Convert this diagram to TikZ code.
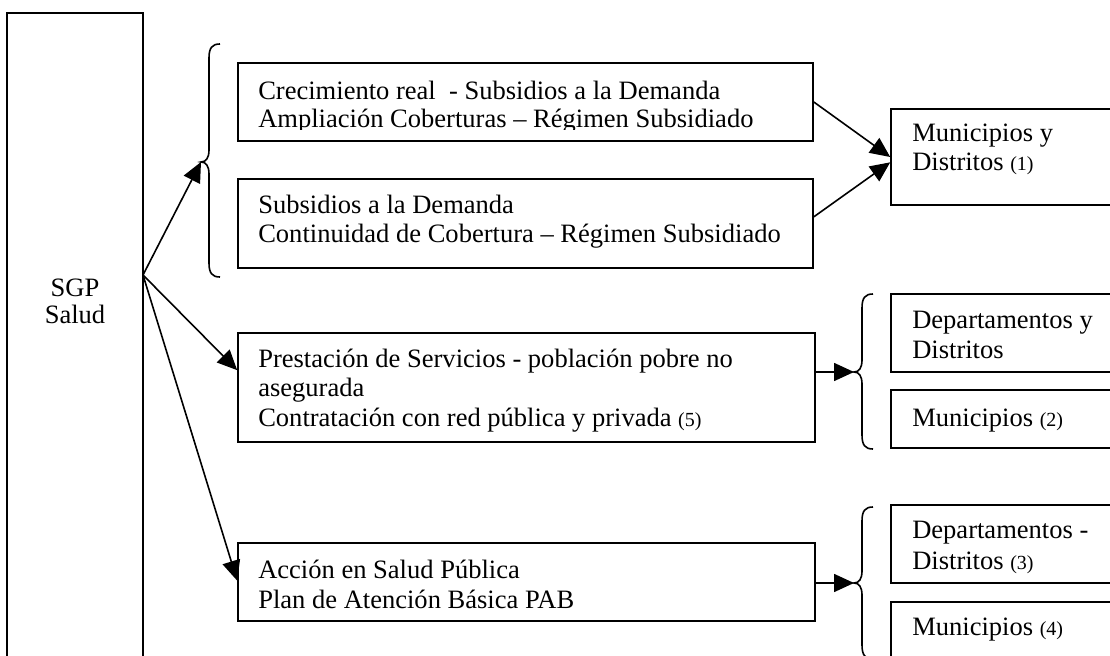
\documentclass[tikz,border=0pt]{standalone}
\usepackage{fontspec}
\setmainfont{Liberation Serif}
\usetikzlibrary{arrows.meta,fit}
\newcommand{\smnum}[1]{{\fontsize{15}{17}\selectfont(#1)}}
\newcommand{\drawbrace}[4]{%
  \draw[brc] (#1,#2) .. controls (#1-8,#2) and (#1-11,#2+4) .. (#1-11,#2+14)
    -- (#1-11,#3-12) .. controls (#1-11,#3-4) and (#1-14,#3) .. (#1-19,#3)
    .. controls (#1-14,#3) and (#1-11,#3+4) .. (#1-11,#3+12)
    -- (#1-11,#4-14) .. controls (#1-11,#4-4) and (#1-8,#4) .. (#1,#4);}
\begin{document}
\begin{tikzpicture}[x=0.75pt,y=-0.75pt,
  box/.style={draw, line width=1.2pt, inner sep=0pt, rectangle},
  ln/.style={anchor=base west, inner sep=0pt, font=\fontsize{19.9}{22}\selectfont},
  lc/.style={anchor=base, inner sep=0pt, font=\fontsize{19.9}{22}\selectfont},
  arr/.style={line width=1.2pt, -{Triangle[length=15pt,width=13.5pt]}},
  brc/.style={line width=1.2pt}]
\path[use as bounding box, clip] (0,0) rectangle (1110,656);
\fill[white] (0,0) rectangle (1110,656);

% boxes
\node[box, fit={(7,13) (143,700)}] (S) {};
\node[box, fit={(238,63) (813,141)}] (A) {};
\node[box, fit={(238,179) (813,268)}] (B) {};
\node[box, fit={(238,333) (815,442)}] (P) {};
\node[box, fit={(238,543) (815,621)}] (D) {};
\node[box, fit={(891,109) (1120,205)}] (C) {};
\node[box, fit={(891,294) (1120,372)}] (E) {};
\node[box, fit={(891,390) (1120,448)}] (F) {};
\node[box, fit={(891,505) (1120,583)}] (G) {};
\node[box, fit={(891,602) (1120,700)}] (H) {};

% texts
\node[lc] (S1) at (75,296) {SGP};
\node[lc] (S2) at (75,323) {Salud};
\begin{scope}
  \clip (238,63) rectangle (813,130);
  \node[ln] (A1) at (258,100) {Crecimiento real~ - Subsidios a la Demanda};
  \node[ln] (A2) at (258,128) {Ampliación Coberturas – Régimen Subsidiado};
\end{scope}
\node[ln] (B1) at (258,214) {Subsidios a la Demanda};
\node[ln] (B2) at (258,243) {Continuidad de Cobertura – Régimen Subsidiado};
\begin{scope}
  \clip (238,333) rectangle (815,431);
  \node[ln] (P1) at (258,367) {Prestación de Servicios - población pobre no};
  \node[ln] (P2) at (258,396) {asegurada};
  \node[ln] (P3) at (258,426) {Contratación con red pública y privada \smnum{5}};
\end{scope}
\node[ln] (D1) at (258,578) {Acción en Salud Pública};
\node[ln] (D2) at (258,608) {Plan de Atención Básica PAB};
\node[ln] (C1) at (912,142) {Municipios y};
\node[ln] (C2) at (912,171) {Distritos \smnum{1}};
\node[ln] (E1) at (912,328) {Departamentos y};
\node[ln] (E2) at (912,358) {Distritos};
\node[ln] (F1) at (912,426) {Municipios \smnum{2}};
\node[ln] (G1) at (912,538) {Departamentos -};
\node[ln] (G2) at (912,569) {Distritos \smnum{3}};
\node[ln] (H1) at (912,635) {Municipios \smnum{4}};

% braces
\drawbrace{220}{44}{162}{277}
\drawbrace{873}{294}{372}{449}
\drawbrace{873}{507}{583}{659}
\coordinate (b1) at (201,162);
\coordinate (b2) at (854,372);
\coordinate (b3) at (854,583);
\coordinate (s) at (143,275);

% connectors
\draw[arr] (s) -- (b1);
\draw[arr] (s) -- ([yshift=13pt]P.west);
\draw[arr] (s) -- ([yshift=1pt]D.west);
\draw[arr] (A.east) -- (C.west);
\draw[arr] ([yshift=5pt]B.east) -- ([yshift=-4pt]C.west);
\draw[arr] (P.east |- b2) -- (b2);
\draw[arr] (D.east |- b3) -- (b3);
\end{tikzpicture}
\end{document}
